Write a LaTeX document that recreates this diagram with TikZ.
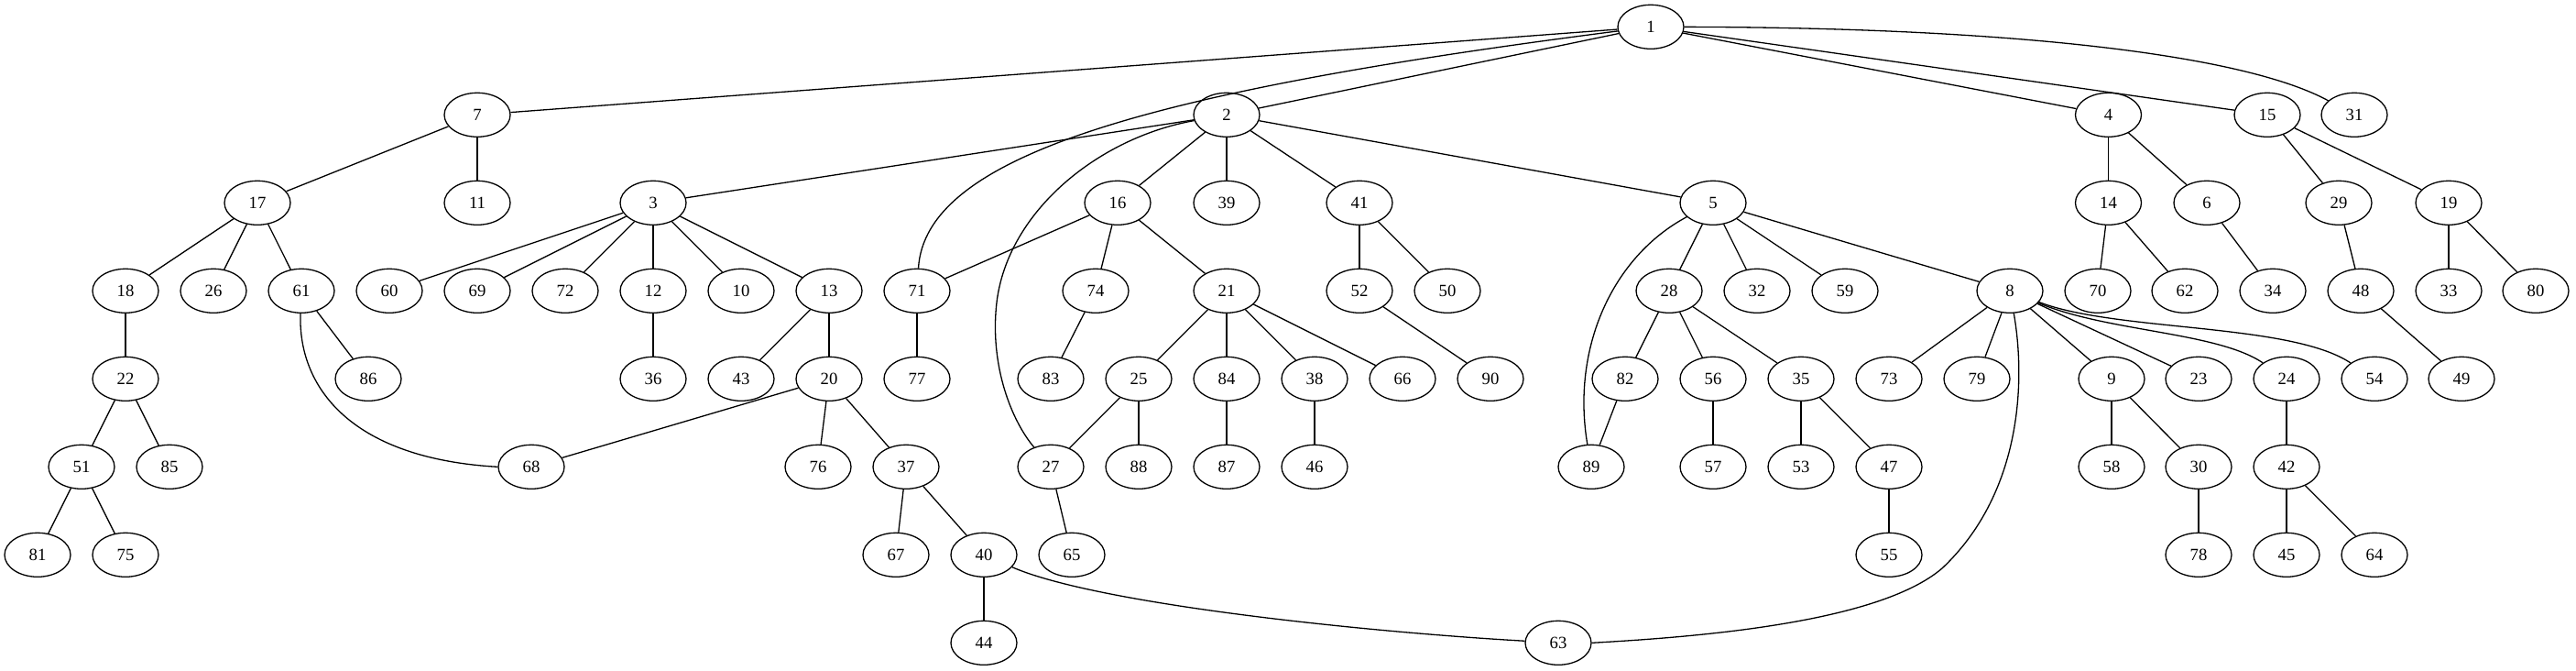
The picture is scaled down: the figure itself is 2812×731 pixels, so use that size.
\documentclass[tikz,border=0pt]{standalone}
\usepackage{fontspec}
\setmainfont{Liberation Serif}
\usetikzlibrary{shapes.geometric}
\begin{document}
\begin{tikzpicture}[x=1pt,y=-1pt,
  nd/.style={draw,ellipse,line width=1.3pt,minimum width=72pt,minimum height=48pt,inner sep=0pt,font=\fontsize{18.7}{20}\selectfont},
  ed/.style={line width=1.3pt}]
\fill[white] (0,0) rectangle (2812,731);
\useasboundingbox (0,0) rectangle (2812,731);
% row 0
\node[nd] (n1) at (1802,29.3) {1};
% row 1
\foreach \n/\x in {7/521,2/1339,4/2301.5,15/2475,31/2570}
  \node[nd] (n\n) at (\x,125.3) {\n};
% row 2
\foreach \n/\x in {17/281,11/521,3/713,16/1220,39/1339,41/1484,5/1870,14/2301.5,6/2409,29/2553,19/2673}
  \node[nd] (n\n) at (\x,221.3) {\n};
% row 3
\foreach \n/\x in {18/137,26/233,61/329,60/425,69/521,72/617,12/713,10/809,13/905,71/1001,74/1196,21/1339,52/1484,50/1580,28/1822,32/1918,59/2014,8/2194,70/2290,62/2385,34/2481,48/2577,33/2673,80/2768}
  \node[nd] (n\n) at (\x,317.3) {\n};
% row 4
\foreach \n/\x in {22/137,86/402,36/713,43/809,20/905,77/1001,83/1147,25/1243,84/1339,38/1435,66/1531,90/1627,82/1774,56/1870,35/1966,73/2062,79/2158,9/2305,23/2400,24/2496,54/2592,49/2687}
  \node[nd] (n\n) at (\x,413.3) {\n};
% row 5
\foreach \n/\x in {51/89,85/185,68/580,76/893,37/989,27/1147,88/1243,87/1339,46/1435,89/1737,57/1870,53/1966,47/2062,58/2305,30/2400,42/2496}
  \node[nd] (n\n) at (\x,509.3) {\n};
% row 6
\foreach \n/\x in {81/41,75/137,67/978,40/1074,65/1170,55/2062,78/2400,45/2496,64/2592}
  \node[nd] (n\n) at (\x,605.3) {\n};
% row 7
\foreach \n/\x in {44/1074,63/1701}
  \node[nd] (n\n) at (\x,701.3) {\n};
% straight edges
\foreach \a/\b in {1/7,1/2,1/4,1/15,7/17,7/11,17/18,17/26,17/61,18/22,22/51,22/85,51/81,51/75,61/86,
  2/3,2/16,2/39,2/41,2/5,3/60,3/69,3/72,3/12,3/10,3/13,12/36,13/43,13/20,20/68,20/76,20/37,37/67,37/40,40/44,
  16/71,16/74,16/21,71/77,74/83,21/25,21/84,21/38,21/66,25/27,25/88,27/65,84/87,38/46,41/52,41/50,52/90,
  5/28,5/32,5/59,5/8,28/82,28/56,28/35,82/89,56/57,35/53,35/47,47/55,8/73,8/79,8/9,8/23,9/58,9/30,30/78,
  24/42,42/45,42/64,4/14,4/6,14/70,14/62,6/34,15/29,15/19,29/48,48/49,19/33,19/80}
  \draw[ed] (n\a) -- (n\b);
% curved edges
\draw[ed] (n1) .. controls (1250,100) and (1010,170) .. (n71);
\draw[ed] (n1) .. controls (2200,30) and (2450,60) .. (n31);
\coordinate (c27) at (1088,330);
\draw[ed] (n2) .. controls (1200,150) and (1100,230) .. (c27) .. controls (1080,400) and (1105,460) .. (n27);
\draw[ed] (n61) .. controls (325,420) and (380,500) .. (n68.west);
\draw[ed] (n40) .. controls (1200,660) and (1500,690) .. (n63);
\coordinate (c63) at (2120,620);
\draw[ed] (n8) .. controls (2212,420) and (2205,540) .. (c63) .. controls (2050,680) and (1850,695) .. (n63.east);
\draw[ed] (n5) .. controls (1760,280) and (1715,380) .. (n89);
\draw[ed] (n8) .. controls (2300,362) and (2420,362) .. (n24);
\draw[ed] (n8) .. controls (2310,362) and (2500,352) .. (n54);
\end{tikzpicture}
\end{document}
